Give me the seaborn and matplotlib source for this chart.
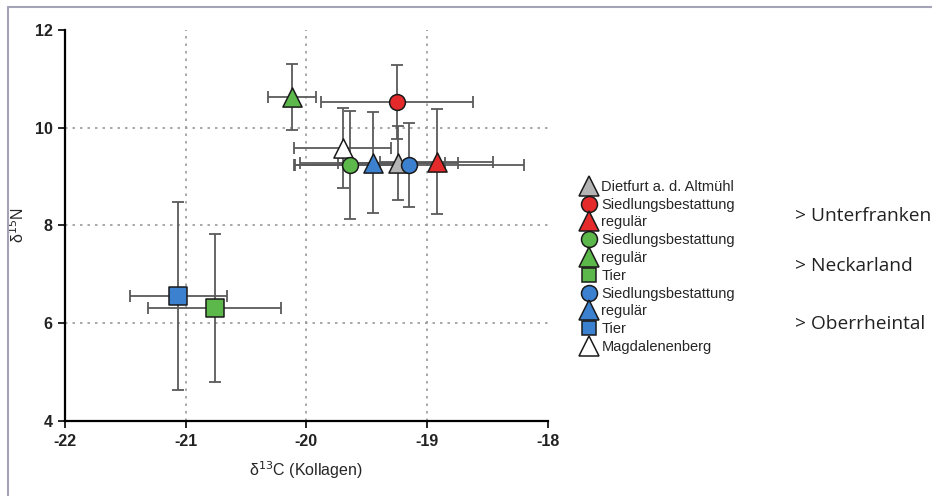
import numpy as np
import pandas as pd
import matplotlib
matplotlib.use('Agg')
import matplotlib.pyplot as plt
import seaborn as sns
from matplotlib.lines import Line2D

sns.set_style('white')
plt.rcParams['font.family'] = ['Liberation Sans', 'DejaVu Sans']
plt.rcParams['axes.unicode_minus'] = False

# Data (mean +/- sd)
groups = ['Dietfurt a. d. Altmühl', 'UF Siedlungsbestattung', 'UF regulär',
          'NL Siedlungsbestattung', 'NL regulär', 'NL Tier',
          'OR Siedlungsbestattung', 'OR regulär', 'OR Tier', 'Magdalenenberg']
legend_labels = ['Dietfurt a. d. Altmühl', 'Siedlungsbestattung', 'regulär',
                 'Siedlungsbestattung', 'regulär', 'Tier',
                 'Siedlungsbestattung', 'regulär', 'Tier', 'Magdalenenberg']
d13c = [-19.24, -19.25, -18.92, -19.64, -20.12, -20.76, -19.15, -19.45, -21.06, -19.70]
d15n = [9.28, 10.52, 9.30, 9.24, 10.63, 6.31, 9.24, 9.28, 6.56, 9.58]
d13c_sd = [0.50, 0.63, 0.47, 0.45, 0.20, 0.55, 0.95, 0.60, 0.40, 0.40]
d15n_sd = [0.76, 0.75, 1.07, 1.10, 0.68, 1.52, 0.86, 1.03, 1.92, 0.82]
colors = ['#b4b4b4', '#e42a2a', '#e42a2a', '#5cb84a', '#5cb84a', '#5cb84a',
          '#3c80d0', '#3c80d0', '#3c80d0', '#ffffff']
markers = ['^', 'o', '^', 'o', '^', 's', 'o', '^', 's', '^']
regions = ['> Unterfranken', '> Neckarland', '> Oberrheintal']

df = pd.DataFrame({'group': groups, 'd13c': d13c, 'd15n': d15n,
                   'c_sd': d13c_sd, 'n_sd': d15n_sd})

fig = plt.figure(figsize=(9.32, 4.96), dpi=100)
ax = fig.add_axes([0.0697, 0.151, 0.518, 0.789])

# error bars first
for i, row in df.iterrows():
    ax.errorbar(row['d13c'], row['d15n'], xerr=row['c_sd'], yerr=row['n_sd'],
                fmt='none', ecolor='#5a5a5a', elinewidth=1.3, capsize=4,
                capthick=1.3, zorder=2)

# draw order so overlaps look like the original
order = [0, 9, 2, 1, 4, 3, 7, 6, 8, 5]
palette = {g: c for g, c in zip(groups, colors)}
marker_map = {g: m for g, m in zip(groups, markers)}
for i in order:
    sub = df.iloc[[i]]
    size = 190 if markers[i] == '^' else (130 if markers[i] == 'o' else 150)
    sns.scatterplot(data=sub, x='d13c', y='d15n', hue='group', style='group',
                    palette=palette, markers=marker_map, s=size,
                    edgecolor='#1a1a1a', linewidth=1.1, legend=False,
                    ax=ax, zorder=3 + order.index(i))

ax.set_xlim(-22, -18)
ax.set_ylim(4, 12)
ax.set_xticks([-22, -21, -20, -19, -18])
ax.set_yticks([4, 6, 8, 10, 12])
for v in [-21, -20, -19]:
    ax.axvline(v, color='#9a9a9a', ls=(0, (1.5, 3)), lw=1.2, zorder=1)
for v in [6, 8, 10]:
    ax.axhline(v, color='#9a9a9a', ls=(0, (1.5, 3)), lw=1.2, zorder=1)

for s in ['top', 'right']:
    ax.spines[s].set_visible(False)
for s in ['left', 'bottom']:
    ax.spines[s].set_color('black')
    ax.spines[s].set_linewidth(1.6)
ax.tick_params(direction='out', length=5, width=1.4, labelsize=11.5, pad=4,
               left=True, bottom=True)
for lab in ax.get_xticklabels() + ax.get_yticklabels():
    lab.set_fontweight('bold')
    lab.set_color('#222222')
ax.set_xlabel(r'δ$^{13}$C (Kollagen)', fontsize=11.5, labelpad=8)
ax.set_ylabel(r'δ$^{15}$N', fontsize=11.5)
ax.yaxis.set_label_coords(-0.078, 0.5)

# legend
handles = [Line2D([], [], ls='none', marker=m,
                  markersize={'^': 15, 'o': 11.5, 's': 10.5}[m],
                  markerfacecolor=c, markeredgecolor='#1a1a1a', markeredgewidth=1.1)
           for m, c in zip(markers, colors)]
fig.legend(handles, legend_labels, loc='upper left',
           bbox_to_anchor=(0.614, 0.652), frameon=False, fontsize=10.5,
           labelspacing=0.26, handletextpad=0.2, handlelength=1.3,
           borderpad=0)

region_y = [216, 266, 324]
for txt, y in zip(regions, region_y):
    fig.text(795 / 932, 1 - y / 496, txt, fontsize=13.8, family='Open Sans',
             va='center', ha='left', color='#222222')

# frame line at top and left like the original crop
fig.add_artist(Line2D([8 / 932, 8 / 932], [0, 1 - 7 / 496], transform=fig.transFigure,
                      color='#a4a4b8', lw=1.5))
fig.add_artist(Line2D([8 / 932, 1], [1 - 7 / 496, 1 - 7 / 496], transform=fig.transFigure,
                      color='#a4a4b8', lw=1.5))

fig.savefig('out.png', dpi=100)
